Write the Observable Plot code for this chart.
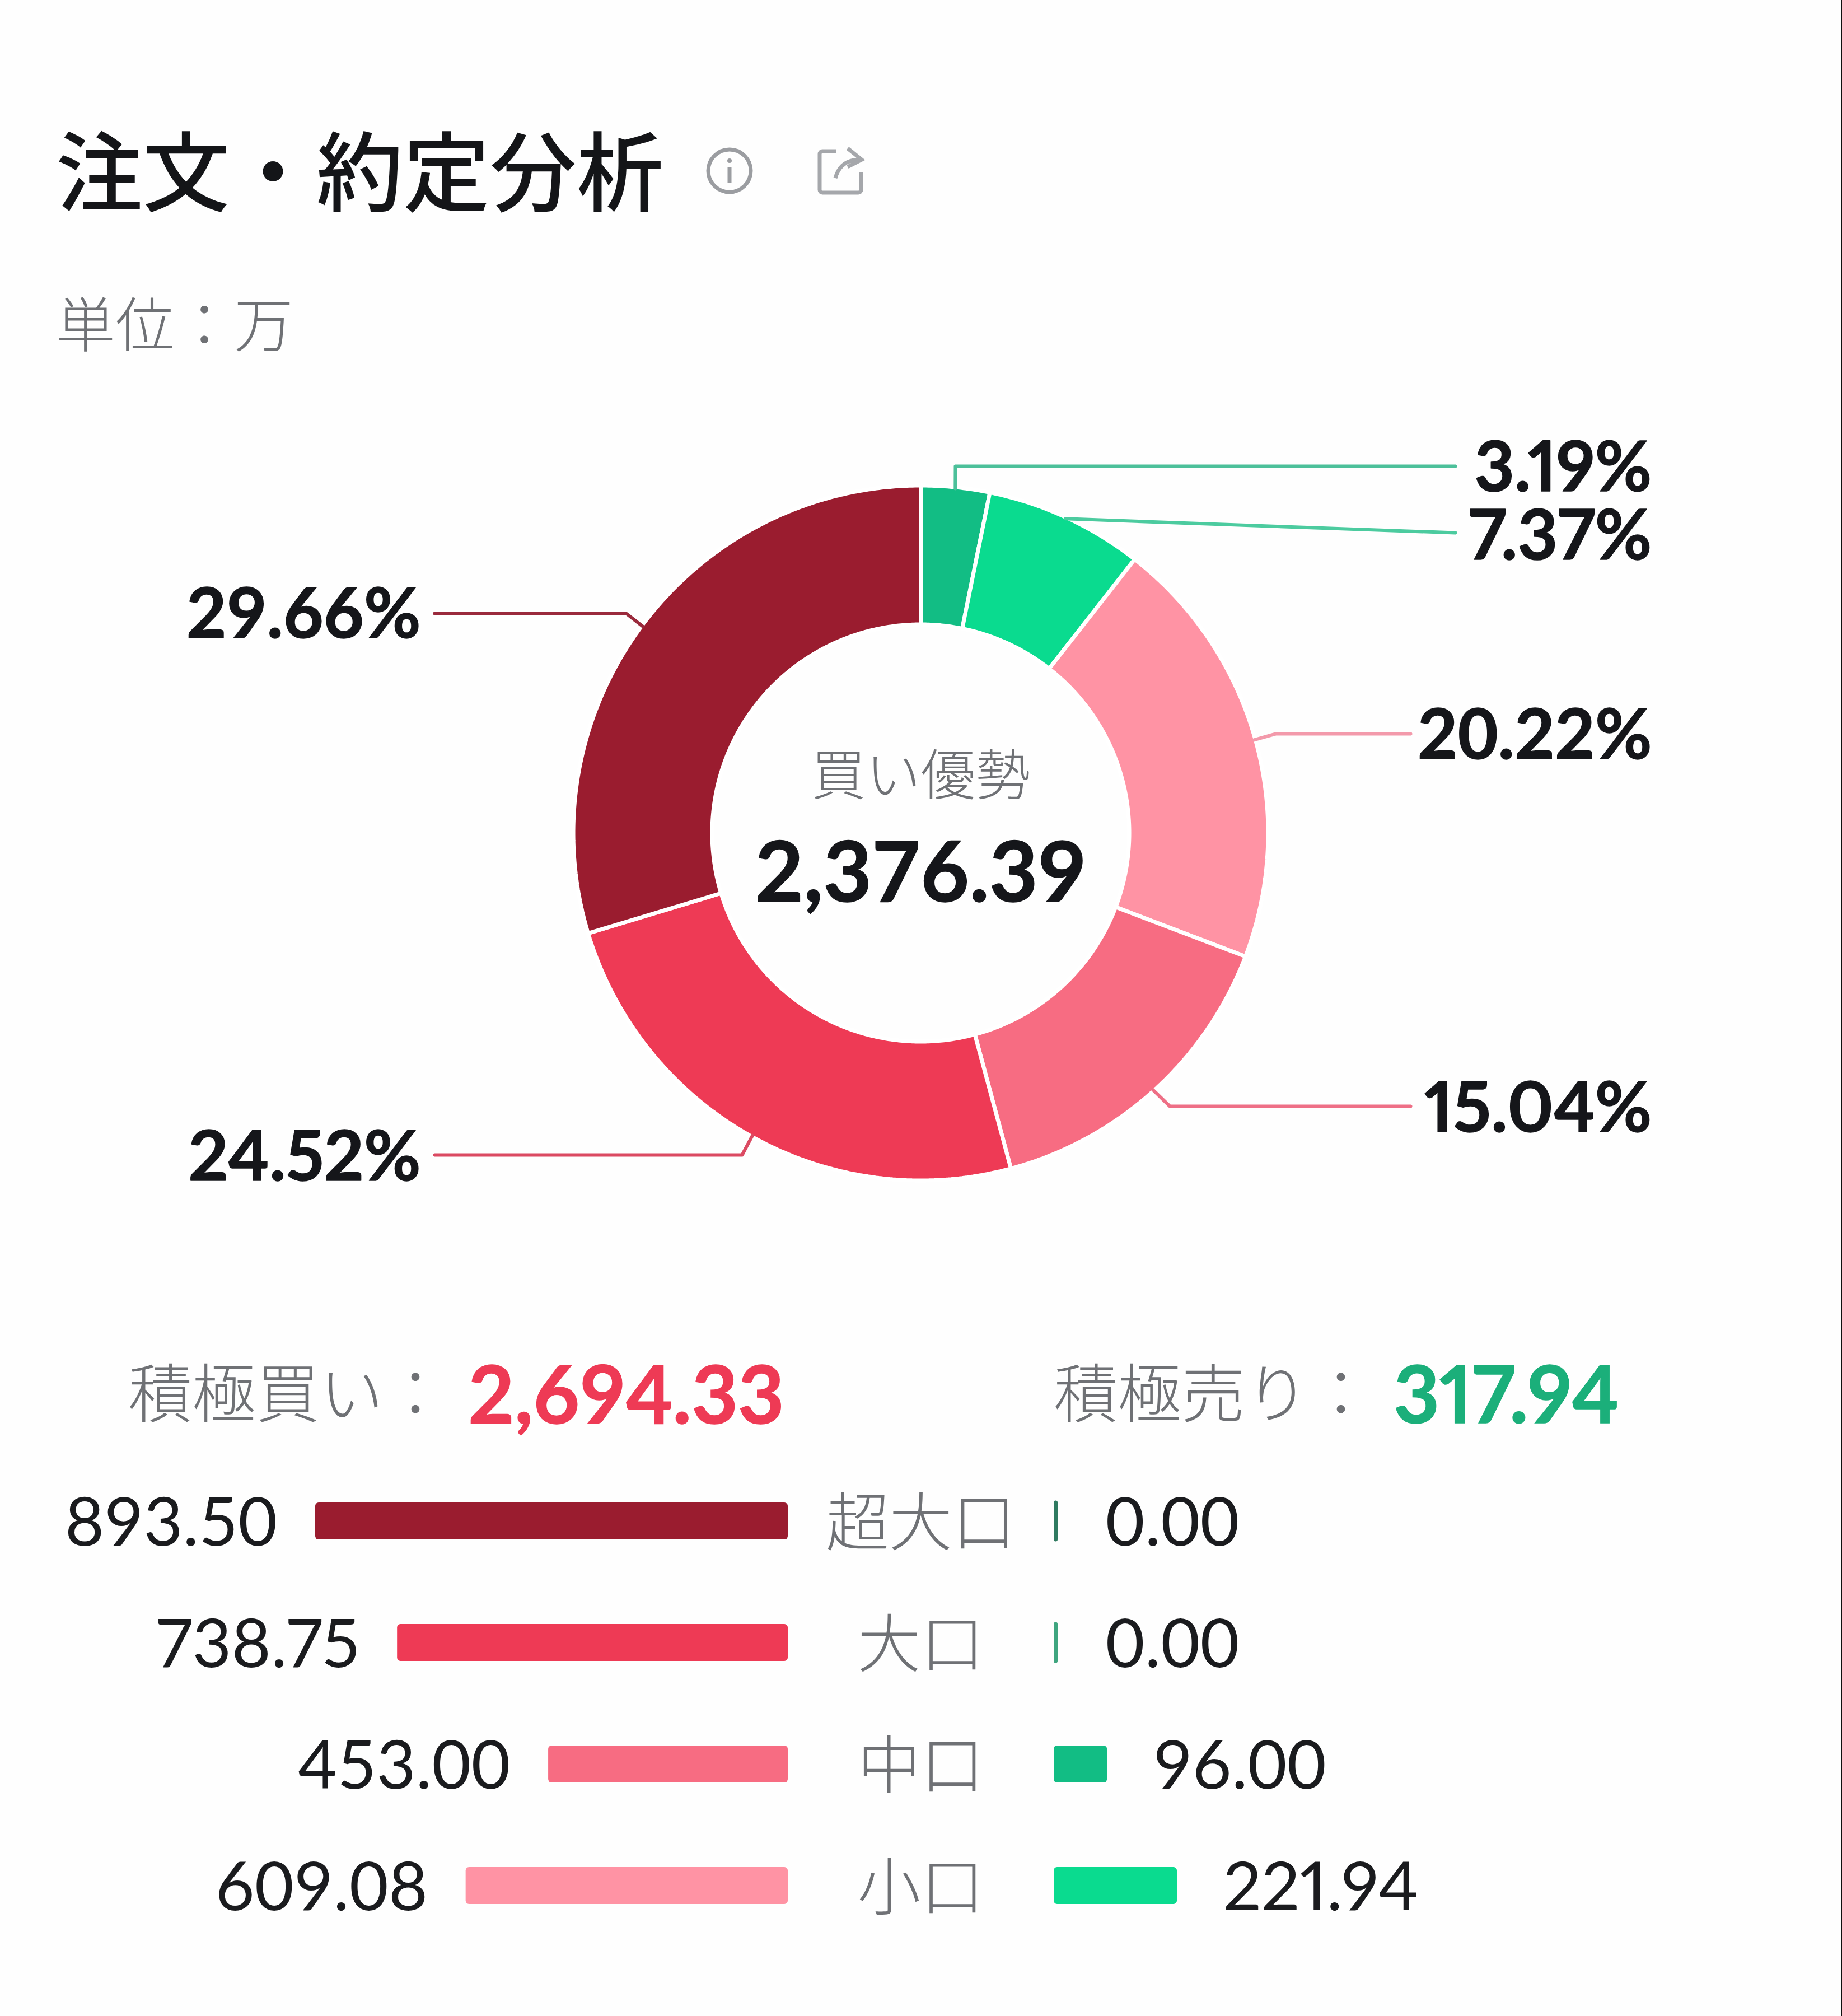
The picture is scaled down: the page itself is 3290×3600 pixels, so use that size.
<!DOCTYPE html>
<html lang="ja">
<head>
<meta charset="utf-8">
<script src="https://cdn.jsdelivr.net/npm/d3@7"></script>
<script src="https://cdn.jsdelivr.net/npm/@observablehq/plot@0.6"></script>
<style>
  html, body { margin: 0; padding: 0; background: #fefefe; }
  #page { position: relative; width: 3289px; height: 3600px; overflow: hidden; background: #fefefe; border-right: 1px solid #111; }
  #page > svg, #page > .plotbox { position: absolute; }
  .t { position: absolute; white-space: nowrap; line-height: 1; transform: translateY(-50%); }
  .cjk { font-family: "Noto Sans CJK JP", sans-serif; }
  .num { font-family: Lato, sans-serif; font-weight: 700; -webkit-text-stroke: 1.5px currentColor; }
</style>
</head>
<body>
<div id="page"></div>
<script>
// ---- data ----
const titleText = "注文・約定分析";
const unitText = "単位：万";
const centerLabel = "買い優勢";
const centerValue = "2,376.39";
const buyLabel = "積極買い：";
const buyTotal = "2,694.33";
const sellLabel = "積極売り：";
const sellTotal = "317.94";

const shares = [3.19, 7.37, 20.22, 15.04, 24.52, 29.66];
const shareColors = ["#12BD84", "#0ADB8F", "#FF93A4", "#F76C82", "#EE3A55", "#9A1C2F"];
const leaderColors = ["#4CC09A", "#4CCB9F", "#F39AAB", "#EE6F86", "#DB4A62", "#9A2A3C"];

const categories = ["超大口", "大口", "中口", "小口"];
const buyValues = [893.50, 738.75, 453.00, 609.08];
const sellValues = [0.00, 0.00, 96.00, 221.94];
const buyColors = ["#9A1C2F", "#EE3A55", "#F76C82", "#FF93A4"];
const sellColors = ["#2F7A60", "#3FA57F", "#12BD84", "#0ADB8F"];

// digit spacing that best fits each label's width in the reference
const proportionalLabels = ["3.19%", "7.37%", "15.04%", "24.52%", "738.75", "221.94"];

// ---- layout of the ring and its leaders (page pixels relative to ring centre) ----
const R_OUT = 617, R_IN = 376, GAP = 7;
const labelAnchors = [
  {elbow: [62, -655], end: [955, -655], text: [1306, -650]},
  {elbow: null,        end: [955, -536], text: [1306, -528]},
  {elbow: [634, -177], end: [875, -177], text: [1306, -172]},
  {elbow: [445, 488],  end: [875, 488],  text: [1306, 494]},
  {elbow: [-319, 575], end: [-868, 575], text: [-893, 581]},
  {elbow: [-526, -392],end: [-868, -392],text: [-893, -388]}
];

const page = document.getElementById("page");
function addText(txt, cls, left, cy, size, color, extra = "") {
  const d = document.createElement("div");
  d.className = "t " + cls;
  d.textContent = txt;
  d.style.cssText = `left:${left}px;top:${cy}px;font-size:${size}px;color:${color};${extra}`;
  page.appendChild(d);
}
// text marks, split by digit spacing
function spacedText(data, label, options) {
  const isProp = d => proportionalLabels.includes(label(d));
  return [
    Plot.text(data.filter(isProp), {...options, text: label, fontVariant: "proportional-nums"}),
    Plot.text(data.filter(d => !isProp(d)), {...options, text: label, fontVariant: "tabular-nums"})
  ];
}

// ---- header ----
addText(titleText, "cjk", 100, 297, 155, "#141518", "font-weight:500;");
addText(unitText, "cjk", 100, 573, 106, "#6f7175", "font-weight:300;");
page.insertAdjacentHTML("beforeend", `
<svg style="left:1258px;top:260px" width="90" height="90" viewBox="0 0 90 90" fill="none" stroke="#9b9da1" stroke-width="7">
  <circle cx="45" cy="45" r="38"/><circle cx="45" cy="27" r="4" fill="#9b9da1" stroke="none"/><path d="M45 39V66"/>
</svg>
<svg style="left:1456px;top:258px" width="90" height="94" viewBox="0 0 90 94" fill="none" stroke="#a5a7ab" stroke-width="7">
  <path d="M37 12H13a5 5 0 0 0-5 5V81a5 5 0 0 0 5 5H77a5 5 0 0 0 5-5V50"/>
  <path d="M58 7L83 27L58 40M80 27C56 27 42 38 36 60"/>
</svg>`);

// ---- ring ----
const pie = d3.pie().sort(null).value(d => d)(shares);
const slicePoints = pie.flatMap((s, i) => {
  const n = Math.max(8, Math.ceil((s.endAngle - s.startAngle) / 0.008));
  const angles = d3.range(n + 1).map(k => s.startAngle + (s.endAngle - s.startAngle) * k / n);
  const ring = [
    ...angles.map(a => [a, R_OUT + GAP / 2]),
    ...angles.slice().reverse().map(a => [a, R_IN - GAP / 2])
  ];
  ring.push(ring[0]);
  return ring.map(([a, r]) => ({slice: i, color: shareColors[i], x: r * Math.sin(a), y: -r * Math.cos(a)}));
});
const leaderPoints = pie.flatMap((s, i) => {
  const mid = (s.startAngle + s.endAngle) / 2;
  const a = labelAnchors[i];
  const pts = [[(R_OUT + 1) * Math.sin(mid), -(R_OUT + 1) * Math.cos(mid)]];
  if (a.elbow) pts.push(a.elbow);
  pts.push(a.end);
  return pts.map(([x, y]) => ({leader: i, color: leaderColors[i], x, y}));
});
const pctLabels = shares.map((v, i) => ({
  label: v.toFixed(2) + "%", x: labelAnchors[i].text[0], y: labelAnchors[i].text[1]
}));

const ringTop = 700, ringHeight = 1600, cx = 1644, cy = 1487;
const ringPlot = Plot.plot({
  width: 3289, height: ringHeight,
  margin: 0,
  x: {axis: null, type: "linear", domain: [-cx, 3289 - cx], range: [0, 3289]},
  y: {axis: null, type: "linear", domain: [ringTop - cy, ringTop + ringHeight - cy], range: [0, ringHeight]},
  style: {background: "none", overflow: "visible"},
  marks: [
    Plot.line(slicePoints, {x: "x", y: "y", z: "slice", fill: "color", stroke: "#fff", strokeWidth: GAP, strokeLinejoin: "miter", curve: "linear"}),
    Plot.line(leaderPoints, {x: "x", y: "y", z: "leader", stroke: "color", strokeWidth: 6, curve: "linear"}),
    spacedText(pctLabels, d => d.label, {x: "x", y: "y", textAnchor: "end", fontFamily: "Lato, sans-serif", fontWeight: 700, fontSize: 124, fill: "#15161a", stroke: "#15161a", strokeWidth: 1.5}),
    Plot.text([centerLabel], {x: () => 0, y: () => -100, text: d => d, fontFamily: "Noto Sans CJK JP, sans-serif", fontWeight: 300, fontSize: 98, fill: "#6f7175"}),
    Plot.text([centerValue], {x: () => 0, y: () => 74, text: d => d, fontFamily: "Lato, sans-serif", fontWeight: 700, fontSize: 150, fontVariant: "tabular-nums", fill: "#15161a", stroke: "#15161a", strokeWidth: 1.5})
  ]
});
ringPlot.style.left = "0px"; ringPlot.style.top = ringTop + "px";
ringPlot.style.position = "absolute";
page.appendChild(ringPlot);

// ---- totals ----
addText(buyLabel, "cjk", 229, 2481, 114, "#6f7175", "font-weight:300;");
addText(buyTotal, "num", 836, 2486, 143, "#EE3A55", "font-variant-numeric:tabular-nums;");
addText(sellLabel, "cjk", 1882, 2481, 114, "#6f7175", "font-weight:300;");
addText(sellTotal, "num", 2489, 2486, 142, "#1BAF7A", "font-variant-numeric:proportional-nums;");

// ---- paired bars ----
const rows = categories.map((category, i) => ({
  category, buy: buyValues[i], sell: sellValues[i], buyColor: buyColors[i], sellColor: sellColors[i]
}));
const rowsTop = 2607, rowsHeight = 869;
const yBand = {axis: null, type: "band", domain: categories, paddingInner: 0.696, paddingOuter: 0.348};
const valueFont = {fontFamily: "Lato, sans-serif", fontWeight: 400, fontSize: 121, fill: "#1a1b1e", dy: 5};

const leftPlot = Plot.plot({
  width: 1880, height: rowsHeight,
  marginTop: 0, marginBottom: 0, marginLeft: 563, marginRight: 473,
  x: {axis: null, domain: [893.5, 0]},
  y: yBand,
  style: {background: "none", overflow: "visible"},
  marks: [
    Plot.barX(rows, {x1: 0, x2: "buy", y: "category", fill: "buyColor", rx: 6}),
    spacedText(rows, d => d.buy.toFixed(2), {x: "buy", y: "category", textAnchor: "end", dx: -68, ...valueFont}),
    Plot.text(rows, {y: "category", text: "category", frameAnchor: "right", dx: 237, dy: 6, textAnchor: "middle",
      fontFamily: "Noto Sans CJK JP, sans-serif", fontWeight: 300, fontSize: 113, fill: "#6f7175"})
  ]
});
leftPlot.style.position = "absolute"; leftPlot.style.left = "0px"; leftPlot.style.top = rowsTop + "px";
page.appendChild(leftPlot);

const rightPlot = Plot.plot({
  width: 1400, height: rowsHeight,
  marginTop: 0, marginBottom: 0, marginLeft: 2, marginRight: 1178,
  x: {axis: null, domain: [0, 221.94]},
  y: yBand,
  style: {background: "none", overflow: "visible"},
  marks: [
    Plot.barX(rows.filter(d => d.sell > 0), {x1: 0, x2: "sell", y: "category", fill: "sellColor", rx: 6}),
    Plot.tickX(rows.filter(d => d.sell === 0), {x: "sell", y: "category", stroke: "sellColor", strokeWidth: 7, strokeLinecap: "round", dx: 3}),
    spacedText(rows.filter(d => d.sell > 0), d => d.sell.toFixed(2), {x: "sell", y: "category", textAnchor: "start", dx: 82, ...valueFont}),
    spacedText(rows.filter(d => d.sell === 0), d => d.sell.toFixed(2), {x: "sell", y: "category", textAnchor: "start", dx: 92, ...valueFont})
  ]
});
rightPlot.style.position = "absolute"; rightPlot.style.left = "1880px"; rightPlot.style.top = rowsTop + "px";
page.appendChild(rightPlot);
</script>
</body>
</html>
